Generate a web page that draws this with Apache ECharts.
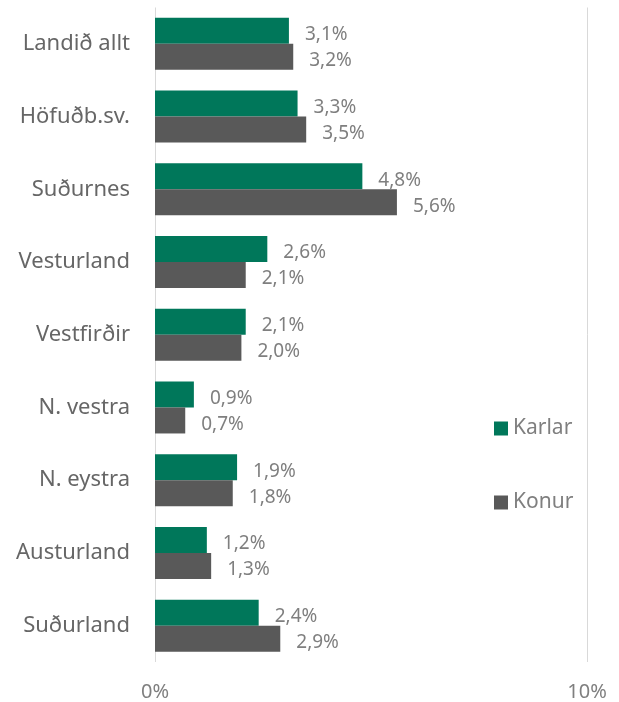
<!DOCTYPE html>
<html><head><meta charset="utf-8">
<script src="https://cdn.jsdelivr.net/npm/echarts@6/dist/echarts.min.js"></script>
<style>html,body{margin:0;padding:0;background:#fff}#c{width:619px;height:702px}</style>
</head><body><div id="c"></div>
<script>
var categories = ['Landið allt','Höfuðb.sv.','Suðurnes','Vesturland','Vestfirðir','N. vestra','N. eystra','Austurland','Suðurland'];
var karlar = [3.1, 3.3, 4.8, 2.6, 2.1, 0.9, 1.9, 1.2, 2.4];
var konur  = [3.2, 3.5, 5.6, 2.1, 2.0, 0.7, 1.8, 1.3, 2.9];
var xTicks = [0, 10];
var font = 'Noto Sans';
function fmt(v){ return v.toFixed(1).replace('.', ',') + '%'; }
var chart = echarts.init(document.getElementById('c'));
chart.setOption({
  animation: false,
  textStyle: {fontFamily: font},
  grid: {left: 155, right: 32, top: 7.5, bottom: 38.5, containLabel: false},
  legend: {
    orient: 'vertical', left: 489, top: 413, itemWidth: 14, itemHeight: 14, itemGap: 53,
    icon: 'rect',
    textStyle: {fontSize: 21, color: '#7f7f7f', fontFamily: font},
    data: ['Karlar','Konur']
  },
  xAxis: {
    type: 'value', min: xTicks[0], max: xTicks[xTicks.length-1], interval: 10,
    axisLine: {show: false}, axisTick: {show: false},
    splitLine: {show: true, lineStyle: {color: '#d9d9d9', width: 1}},
    axisLabel: {formatter: function(v){return v + '%';}, fontSize: 20, color: '#7f7f7f', margin: 20, fontFamily: font}
  },
  yAxis: {
    type: 'category', data: categories, inverse: true,
    axisLine: {show: false}, axisTick: {show: false},
    axisLabel: {fontSize: 22, color: '#666666', margin: 25, fontFamily: font}
  },
  series: [
    {name: 'Karlar', type: 'bar', data: karlar, barWidth: 26, barGap: '0%',
     itemStyle: {color: '#00775a'},
     label: {show: true, position: 'right', distance: 16, offset: [0, 4], fontSize: 19, color: '#7f7f7f', formatter: function(p){return fmt(p.value);}}},
    {name: 'Konur', type: 'bar', data: konur, barWidth: 26, barGap: '0%',
     itemStyle: {color: '#595959'},
     label: {show: true, position: 'right', distance: 16, offset: [0, 4], fontSize: 19, color: '#7f7f7f', formatter: function(p){return fmt(p.value);}}}
  ]
});
</script></body></html>
